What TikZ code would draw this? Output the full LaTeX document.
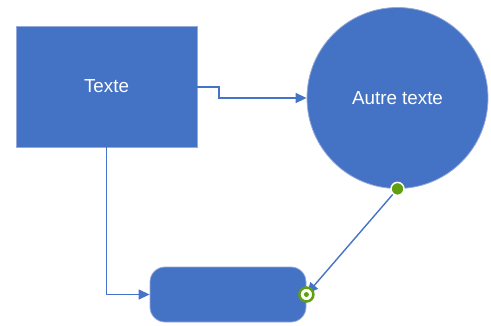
\documentclass[tikz,border=0pt]{standalone}
\usepackage{fontspec}
\setmainfont{Liberation Sans}
\usetikzlibrary{arrows.meta}
\definecolor{shapeblue}{RGB}{68,114,196}
\definecolor{edgeblue}{RGB}{150,170,215}
\definecolor{linkblue}{RGB}{70,115,200}
\definecolor{handlegreen}{RGB}{96,160,16}
\begin{document}
\begin{tikzpicture}[x=1pt,y=-1pt,
  shapebox/.style={fill=shapeblue,draw=edgeblue,line width=0.8pt,text=white,font=\fontsize{18.8}{22}\selectfont,inner sep=0pt},
  link/.style={draw=linkblue,line width=1.4pt,-{Triangle[length=11pt,width=10pt]}}]
\useasboundingbox (0,0) rectangle (491,325);
\node[shapebox,minimum width=181pt,minimum height=121pt] (r) at (106.5,86.5) {Texte};
\node[shapebox,circle,minimum size=181pt] (c) at (397.5,98) {Autre texte};
\node[shapebox,rounded corners=15pt,minimum width=156pt,minimum height=55pt] (b) at (228,294.5) {};
\coordinate (rr) at (r.east |- 0,87);
\draw[link] (rr) -- (219,87) -- (219,98) -- (c.west);
\draw[link] (r.south) |- (b.west);
\coordinate (cs) at (c.south);
\coordinate (be) at (b.east);
\draw[link,shorten >=1pt] (cs) -- (be);
\node[circle,fill=handlegreen,draw=white,line width=1.5pt,minimum size=13pt,inner sep=0pt] (h1) at (cs) {};
\node[circle,fill=white,draw=handlegreen,line width=2.5pt,minimum size=14pt,inner sep=0pt] (h2) at (be) {};
\node[circle,fill=handlegreen,minimum size=5pt,inner sep=0pt] (h3) at (be) {};
\end{tikzpicture}
\end{document}
